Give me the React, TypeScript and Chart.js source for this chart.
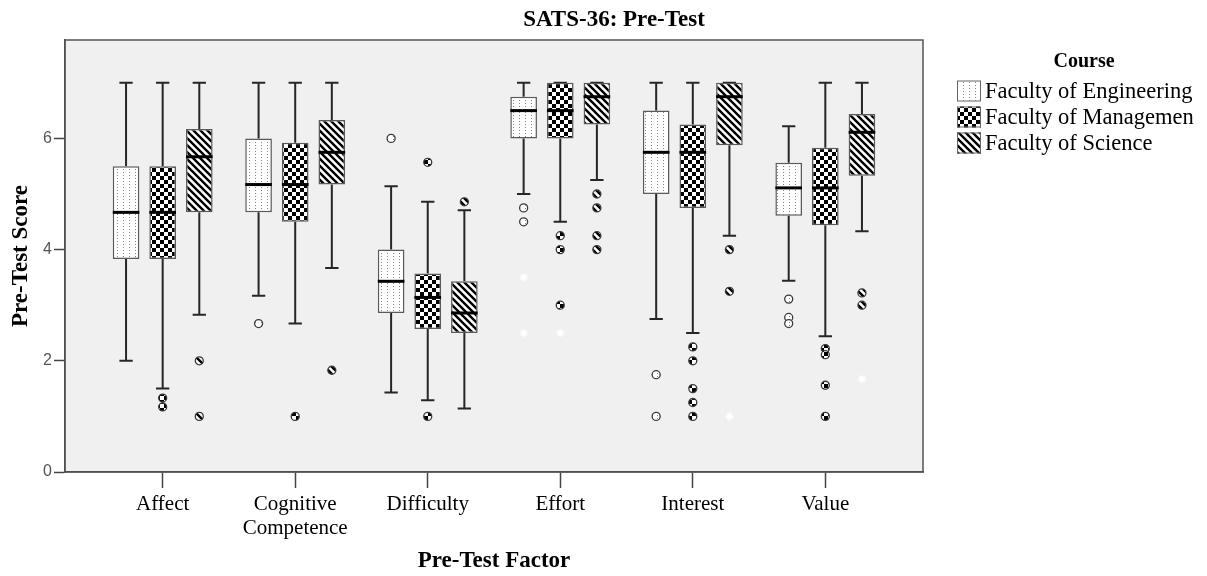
import { useEffect, useRef } from 'react';
import { Chart, registerables } from 'chart.js';

Chart.register(...registerables);

const WIDTH = 1207;
const HEIGHT = 576;

// ---------- data ----------
const chartTitle = 'SATS-36: Pre-Test';
const xTitle = 'Pre-Test Factor';
const yTitle = 'Pre-Test Score';
const legendTitle = 'Course';
const factorLabels: string[][] = [['Affect'], ['Cognitive', 'Competence'], ['Difficulty'], ['Effort'], ['Interest'], ['Value']];
const courseNames = ['Faculty of Engineering', 'Faculty of Managemen', 'Faculty of Science'];
const yTicks = [0, 2, 4, 6];
const yMax = 7.77;

// Faculty of Engineering
const engLow = [2.0, 3.17, 1.43, 5.0, 2.75, 3.44];
const engQ1 = [3.83, 4.67, 2.86, 6.0, 5.0, 4.61];
const engMedian = [4.67, 5.17, 3.43, 6.5, 5.75, 5.11];
const engQ3 = [5.5, 6.0, 4.0, 6.75, 6.5, 5.56];
const engHigh = [7, 7, 5.14, 7, 7, 6.22];
const engOutliers = [[], [2.67], [6.0], [4.75, 4.5], [1.75, 1.0], [3.11, 2.78, 2.67]];
const engExtremes = [[], [], [], [3.5, 2.5], [], []];

// Faculty of Management
const mgmtLow = [1.5, 2.67, 1.29, 4.5, 2.5, 2.44];
const mgmtQ1 = [3.83, 4.5, 2.57, 6.0, 4.75, 4.44];
const mgmtMedian = [4.67, 5.17, 3.14, 6.5, 5.75, 5.11];
const mgmtQ3 = [5.5, 5.92, 3.57, 7.0, 6.25, 5.83];
const mgmtHigh = [7, 7, 4.86, 7, 7, 7];
const mgmtOutliers = [[1.33, 1.17], [1.0], [5.57, 1.0], [4.25, 4.0, 3.0], [2.25, 2.0, 1.5, 1.25, 1.0], [2.22, 2.11, 1.56, 1.0]];
const mgmtExtremes = [[], [], [], [2.5], [], []];

// Faculty of Science
const sciLow = [2.83, 3.67, 1.14, 5.25, 4.25, 4.33];
const sciQ1 = [4.67, 5.17, 2.5, 6.25, 5.875, 5.33];
const sciMedian = [5.67, 5.75, 2.86, 6.75, 6.75, 6.11];
const sciQ3 = [6.17, 6.33, 3.43, 7.0, 7.0, 6.44];
const sciHigh = [7, 7, 4.71, 7, 7, 7];
const sciOutliers = [[2.0, 1.0], [1.83], [4.86], [5.0, 4.75, 4.25, 4.0], [4.0, 3.25], [3.22, 3.0]];
const sciExtremes = [[], [], [], [], [1.0], [1.67]];

const series = [
  { lo: engLow, q1: engQ1, med: engMedian, q3: engQ3, hi: engHigh, out: engOutliers, ext: engExtremes },
  { lo: mgmtLow, q1: mgmtQ1, med: mgmtMedian, q3: mgmtQ3, hi: mgmtHigh, out: mgmtOutliers, ext: mgmtExtremes },
  { lo: sciLow, q1: sciQ1, med: sciMedian, q3: sciQ3, hi: sciHigh, out: sciOutliers, ext: sciExtremes },
];

// ---------- styling ----------
const SERIF = '"Liberation Serif", "Times New Roman", serif';
const SANS = '"Liberation Sans", Arial, sans-serif';
const CAT_PCT = 0.829;
const BAR_PCT = 0.727;

function makePattern(kind: string): CanvasPattern | string {
  const c = document.createElement('canvas');
  const ctx = c.getContext('2d');
  if (!ctx) return '#fff';
  if (kind === 'dots') {
    c.width = 6; c.height = 3;
    ctx.fillStyle = '#ffffff'; ctx.fillRect(0, 0, 6, 3);
    ctx.fillStyle = '#858585'; ctx.fillRect(3, 1, 1, 1);
  } else if (kind === 'checker') {
    c.width = 8; c.height = 8;
    ctx.fillStyle = '#ffffff'; ctx.fillRect(0, 0, 8, 8);
    ctx.fillStyle = '#000000'; ctx.fillRect(0, 0, 4, 4); ctx.fillRect(4, 4, 4, 4);
  } else {
    c.width = 7; c.height = 7;
    ctx.fillStyle = '#ffffff'; ctx.fillRect(0, 0, 7, 7);
    ctx.strokeStyle = '#000000'; ctx.lineWidth = 2.4;
    ctx.beginPath();
    for (const o of [-7, 0, 7]) { ctx.moveTo(o - 1, -1); ctx.lineTo(o + 8, 8); }
    ctx.stroke();
  }
  const p = ctx.createPattern(c, 'repeat');
  return p || '#fff';
}

export default function App() {
  const ref = useRef<HTMLCanvasElement | null>(null);

  useEffect(() => {
    document.body.style.margin = '0';
    const canvas = ref.current;
    if (!canvas) return;
    const patterns = [makePattern('dots'), makePattern('checker'), makePattern('hatch')];
    const n = series.length;
    const slot = (j: number) => (j - (n - 1) / 2) * CAT_PCT / n;

    const barSets = series.map((s, j) => ({
      type: 'bar' as const,
      label: courseNames[j],
      data: factorLabels.map((_, i) => ({ x: i, y: [s.q1[i], s.q3[i]] })),
      backgroundColor: patterns[j],
      borderColor: '#5a5a5a',
      borderWidth: 1.5,
      borderSkipped: false,
      categoryPercentage: CAT_PCT,
      barPercentage: BAR_PCT,
      order: 2,
    }));
    const outSets = series.map((s, j) => ({
      type: 'scatter' as const,
      label: courseNames[j] + ' outliers',
      data: s.out.flatMap((vals, i) => vals.map((v) => ({ x: i + slot(j), y: v }))),
      pointStyle: 'circle',
      pointRadius: 4,
      pointBackgroundColor: patterns[j],
      pointBorderColor: '#3a3a3a',
      pointBorderWidth: 1.3,
      order: 1,
    }));
    const extSets = series.map((s, j) => ({
      type: 'scatter' as const,
      label: courseNames[j] + ' extremes',
      data: s.ext.flatMap((vals, i) => vals.map((v) => ({ x: i + slot(j), y: v }))),
      pointStyle: 'star',
      pointRadius: 4,
      pointBackgroundColor: '#ffffff',
      pointBorderColor: '#ffffff',
      pointBorderWidth: 1.5,
      order: 1,
    }));

    const boxParts = {
      id: 'boxParts',
      beforeDraw(chart: any) {
        const { ctx, chartArea: a } = chart;
        ctx.save();
        ctx.fillStyle = '#f0f0f0';
        ctx.fillRect(a.left, a.top, a.right - a.left, a.bottom - a.top);
        ctx.restore();
      },
      beforeDatasetsDraw(chart: any) {
        const { ctx, chartArea: a } = chart;
        const ys = chart.scales.y;
        ctx.save();
        ctx.strokeStyle = '#555';
        ctx.lineWidth = 1.5;
        ctx.strokeRect(a.left, a.top, a.right - a.left, a.bottom - a.top);
        ctx.strokeStyle = '#262626';
        ctx.lineWidth = 2;
        series.forEach((s, k) => {
          const meta = chart.getDatasetMeta(k);
          meta.data.forEach((bar: any, i: number) => {
            const { x, width } = bar.getProps(['x', 'width'], true);
            const half = width / 4;
            const yHi = ys.getPixelForValue(s.hi[i]);
            const yQ3 = ys.getPixelForValue(s.q3[i]);
            const yQ1 = ys.getPixelForValue(s.q1[i]);
            const yLo = ys.getPixelForValue(s.lo[i]);
            ctx.beginPath();
            ctx.moveTo(x, yHi); ctx.lineTo(x, yQ3);
            ctx.moveTo(x, yQ1); ctx.lineTo(x, yLo);
            ctx.moveTo(x - half, yHi); ctx.lineTo(x + half, yHi);
            ctx.moveTo(x - half, yLo); ctx.lineTo(x + half, yLo);
            ctx.stroke();
          });
        });
        ctx.restore();
      },
      afterDatasetsDraw(chart: any) {
        const { ctx } = chart;
        const ys = chart.scales.y;
        ctx.save();
        ctx.strokeStyle = '#000';
        ctx.lineWidth = 3;
        series.forEach((s, k) => {
          const meta = chart.getDatasetMeta(k);
          meta.data.forEach((bar: any, i: number) => {
            const { x, width } = bar.getProps(['x', 'width'], true);
            const ym = ys.getPixelForValue(s.med[i]);
            ctx.beginPath();
            ctx.moveTo(x - width / 2, ym);
            ctx.lineTo(x + width / 2, ym);
            ctx.stroke();
          });
        });
        ctx.restore();
      },
      afterDraw(chart: any) {
        const { ctx, chartArea: a } = chart;
        ctx.save();
        // title
        ctx.fillStyle = '#000';
        ctx.font = `bold 23px ${SERIF}`;
        ctx.textAlign = 'center';
        ctx.textBaseline = 'middle';
        ctx.fillText(chartTitle, 614, 20);
        // legend
        const lx = a.right + 34;
        ctx.font = `bold 20px ${SERIF}`;
        ctx.fillText(legendTitle, 1084, 62);
        courseNames.forEach((name, k) => {
          const cy = 91 + k * 26;
          ctx.fillStyle = patterns[k];
          ctx.fillRect(lx, cy - 10.5, 24, 21);
          ctx.strokeStyle = '#666';
          ctx.lineWidth = 1;
          ctx.strokeRect(lx + 0.5, cy - 10, 23, 20);
          ctx.fillStyle = '#000';
          ctx.font = `22.5px ${SERIF}`;
          ctx.textAlign = 'left';
          ctx.fillText(name, lx + 28, cy + 1);
        });
        ctx.restore();
      },
    };

    const chart = new Chart(canvas, {
      type: 'bar',
      data: { datasets: [...barSets, ...outSets, ...extSets] as any },
      plugins: [boxParts],
      options: {
        responsive: false,
        animation: false,
        devicePixelRatio: 1,
        events: [],
        layout: { padding: { top: 40, right: 284, left: 0, bottom: 0 } },
        plugins: { legend: { display: false }, tooltip: { enabled: false }, title: { display: false } },
        scales: {
          x: {
            type: 'linear',
            min: -0.737,
            max: 5.737,
            offset: false,
            afterBuildTicks: (s: any) => { s.ticks = factorLabels.map((_, i) => ({ value: i })); },
            afterFit: (s: any) => { s.height = 104; },
            border: { color: '#444', width: 1.5 },
            grid: { drawOnChartArea: false, drawTicks: true, tickLength: 16, tickColor: '#444', tickWidth: 1.5, offset: false },
            ticks: {
              autoSkip: false,
              maxRotation: 0,
              color: '#000',
              padding: 4,
              font: { family: SERIF, size: 21, lineHeight: 1.15 },
              callback: (_v: any, i: number) => factorLabels[i],
            },
            title: { display: true, text: xTitle, color: '#000', font: { family: SERIF, size: 23, weight: 'bold' }, padding: { top: 0, bottom: 1 } },
          },
          y: {
            type: 'linear',
            min: 0,
            max: yMax,
            afterBuildTicks: (s: any) => { s.ticks = yTicks.map((v) => ({ value: v })); },
            afterFit: (s: any) => { s.width = 65; },
            border: { color: '#444', width: 1.5 },
            grid: { drawOnChartArea: false, drawTicks: true, tickLength: 11, tickColor: '#444', tickWidth: 1.5 },
            ticks: { color: '#555', padding: 2, font: { family: SANS, size: 16 } },
            title: { display: true, text: yTitle, color: '#000', font: { family: SERIF, size: 23, weight: 'bold' }, padding: { top: 7, bottom: 0 } },
          },
        },
      } as any,
    });
    return () => chart.destroy();
  }, []);

  return (
    <div style={{ width: WIDTH, height: HEIGHT, overflow: 'hidden', background: '#fff' }}>
      <canvas ref={ref} width={WIDTH} height={HEIGHT} style={{ display: 'block' }} />
    </div>
  );
}
